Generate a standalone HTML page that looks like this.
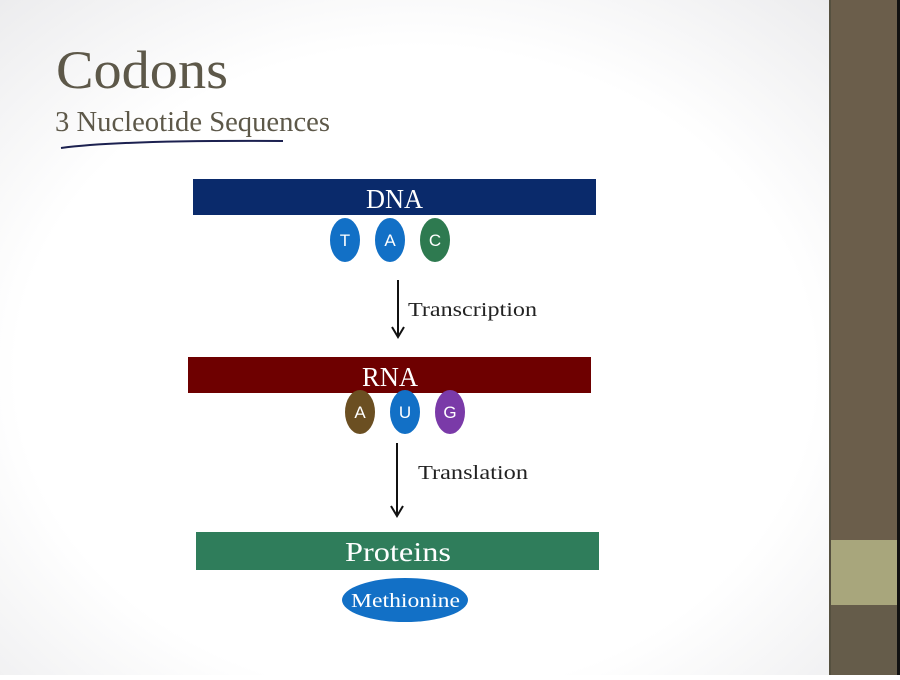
<!DOCTYPE html>
<html><head><meta charset="utf-8"><style>
body{margin:0;width:900px;height:675px;overflow:hidden;background:#fff}
</style></head><body>
<svg width="900" height="675" xmlns="http://www.w3.org/2000/svg">
<defs>
<radialGradient id="bg" cx="0.5" cy="0.55" r="0.8">
<stop offset="0.6" stop-color="#ffffff"/><stop offset="1" stop-color="#e8e8ea"/>
</radialGradient>
</defs>
<rect width="830" height="675" fill="url(#bg)"/>
<rect x="830" y="0" width="70" height="675" fill="#6b5e4b"/>
<rect x="829" y="0" width="2" height="675" fill="#55503f"/>
<rect x="831" y="540" width="66" height="65" fill="#a8a67c"/>
<rect x="831" y="605" width="66" height="70" fill="#655c4a"/>
<rect x="897" y="0" width="3" height="675" fill="#111"/>
<text x="56" y="88" font-family="Liberation Serif, serif" font-size="54" fill="#5d5849" textLength="172" lengthAdjust="spacingAndGlyphs">Codons</text>
<text x="55" y="131" font-family="Liberation Serif, serif" font-size="29" fill="#5d5849" textLength="275" lengthAdjust="spacingAndGlyphs">3 Nucleotide Sequences</text>
<path d="M61 148 Q 120 140 283 141" stroke="#1c2150" stroke-width="2" fill="none"/>
<rect x="193" y="179" width="403" height="36" fill="#0a2a6b"/>
<text x="366" y="208" font-family="Liberation Serif, serif" font-size="27" fill="#fff" textLength="57" lengthAdjust="spacingAndGlyphs">DNA</text>
<g font-family="Liberation Sans, sans-serif" font-size="17" fill="#fff" text-anchor="middle">
<ellipse cx="345" cy="240" rx="15" ry="22" fill="#1270c6"/><text x="345" y="246">T</text>
<ellipse cx="390" cy="240" rx="15" ry="22" fill="#1270c6"/><text x="390" y="246">A</text>
<ellipse cx="435" cy="240" rx="15" ry="22" fill="#2e7a50"/><text x="435" y="246">C</text>
</g>
<line x1="398" y1="280" x2="398" y2="336" stroke="#111" stroke-width="2"/>
<path d="M392 327 L398 337 L404 327" stroke="#111" stroke-width="2" fill="none"/>
<text x="408" y="316" font-family="Liberation Serif, serif" font-size="20" fill="#222" textLength="129" lengthAdjust="spacingAndGlyphs">Transcription</text>
<rect x="188" y="357" width="403" height="36" fill="#6e0000"/>
<text x="362" y="386" font-family="Liberation Serif, serif" font-size="27" fill="#fff" textLength="56" lengthAdjust="spacingAndGlyphs">RNA</text>
<g font-family="Liberation Sans, sans-serif" font-size="17" fill="#fff" text-anchor="middle">
<ellipse cx="360" cy="412" rx="15" ry="22" fill="#6b4f22"/><text x="360" y="418">A</text>
<ellipse cx="405" cy="412" rx="15" ry="22" fill="#1270c6"/><text x="405" y="418">U</text>
<ellipse cx="450" cy="412" rx="15" ry="22" fill="#7a3aa8"/><text x="450" y="418">G</text>
</g>
<line x1="397" y1="443" x2="397" y2="515" stroke="#111" stroke-width="2"/>
<path d="M391 506 L397 516 L403 506" stroke="#111" stroke-width="2" fill="none"/>
<text x="418" y="479" font-family="Liberation Serif, serif" font-size="20" fill="#222" textLength="110" lengthAdjust="spacingAndGlyphs">Translation</text>
<rect x="196" y="532" width="403" height="38" fill="#2f7d5b"/>
<text x="345" y="561" font-family="Liberation Serif, serif" font-size="27" fill="#fff" textLength="106" lengthAdjust="spacingAndGlyphs">Proteins</text>
<ellipse cx="405" cy="600" rx="63" ry="22" fill="#1270c6"/>
<text x="351" y="607" font-family="Liberation Serif, serif" font-size="20" fill="#fff" textLength="109" lengthAdjust="spacingAndGlyphs">Methionine</text>
</svg>
</body></html>
